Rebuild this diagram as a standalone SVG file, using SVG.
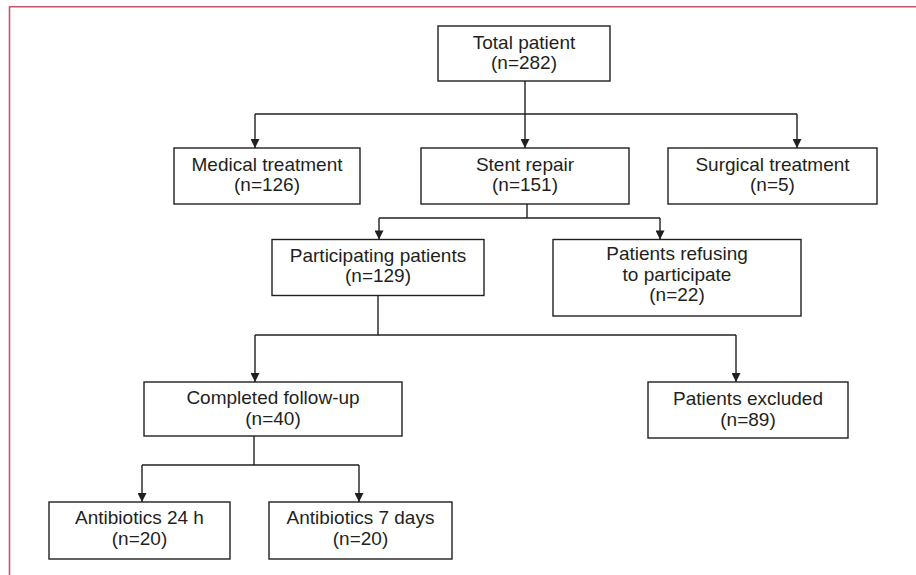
<svg xmlns="http://www.w3.org/2000/svg" width="916" height="575" viewBox="0 0 916 575">
  <style>
    .box { fill: #ffffff; stroke: #231f20; stroke-width: 1.4; }
    .lbl { font-family: "Liberation Sans", Arial, sans-serif; font-size: 19px; fill: #231f20; text-anchor: middle; }
    .conn { fill: none; stroke: #231f20; stroke-width: 1.4; }
    .frame { fill: none; stroke: #c4576c; stroke-width: 1.6; }
  </style>
  <defs>
    <marker id="arr" viewBox="0 0 10 10" refX="10" refY="5" markerWidth="11" markerHeight="9" markerUnits="userSpaceOnUse" orient="auto">
      <path d="M0,0 L10,5 L0,10 z" fill="#231f20"/>
    </marker>
  </defs>
  <rect width="916" height="575" fill="#ffffff"/>
  <path class="frame" d="M9.5,580 V6.8 H920"/>

  <g id="connectors">
    <path class="conn" d="M525,81 V148" marker-end="url(#arr)"/>
    <path class="conn" d="M255,114 H797"/>
    <path class="conn" d="M255,114 V148" marker-end="url(#arr)"/>
    <path class="conn" d="M797,114 V148" marker-end="url(#arr)"/>

    <path class="conn" d="M527,204 V218"/>
    <path class="conn" d="M379,218 H660"/>
    <path class="conn" d="M379,218 V239.5" marker-end="url(#arr)"/>
    <path class="conn" d="M660,218 V239.5" marker-end="url(#arr)"/>

    <path class="conn" d="M378,295 V335"/>
    <path class="conn" d="M255,335 H736"/>
    <path class="conn" d="M255,335 V382" marker-end="url(#arr)"/>
    <path class="conn" d="M736,335 V382" marker-end="url(#arr)"/>

    <path class="conn" d="M254,436 V465"/>
    <path class="conn" d="M142,465 H359"/>
    <path class="conn" d="M142,465 V502" marker-end="url(#arr)"/>
    <path class="conn" d="M359,465 V502" marker-end="url(#arr)"/>
  </g>

  <g id="total">
    <rect class="box" x="438" y="26" width="172" height="55"/>
    <text class="lbl" x="524" y="49">Total patient</text>
    <text class="lbl" x="524" y="69">(n=282)</text>
  </g>
  <g id="medical">
    <rect class="box" x="174" y="148" width="186" height="56"/>
    <text class="lbl" x="267" y="171">Medical treatment</text>
    <text class="lbl" x="267" y="191">(n=126)</text>
  </g>
  <g id="stent">
    <rect class="box" x="421" y="148" width="208" height="56"/>
    <text class="lbl" x="525" y="171">Stent repair</text>
    <text class="lbl" x="525" y="191">(n=151)</text>
  </g>
  <g id="surgical">
    <rect class="box" x="668" y="148" width="209" height="56"/>
    <text class="lbl" x="772.5" y="171">Surgical treatment</text>
    <text class="lbl" x="772.5" y="191">(n=5)</text>
  </g>
  <g id="participating">
    <rect class="box" x="272" y="239.5" width="212" height="56"/>
    <text class="lbl" x="378" y="262">Participating patients</text>
    <text class="lbl" x="378" y="282">(n=129)</text>
  </g>
  <g id="refusing">
    <rect class="box" x="553" y="239.5" width="248" height="76.5"/>
    <text class="lbl" x="677" y="260">Patients refusing</text>
    <text class="lbl" x="677" y="280.5">to participate</text>
    <text class="lbl" x="677" y="301">(n=22)</text>
  </g>
  <g id="completed">
    <rect class="box" x="144" y="382" width="258" height="54"/>
    <text class="lbl" x="273" y="404">Completed follow-up</text>
    <text class="lbl" x="273" y="425">(n=40)</text>
  </g>
  <g id="excluded">
    <rect class="box" x="648" y="382" width="200" height="56"/>
    <text class="lbl" x="748" y="405">Patients excluded</text>
    <text class="lbl" x="748" y="426">(n=89)</text>
  </g>
  <g id="anti24">
    <rect class="box" x="49" y="502" width="181" height="57"/>
    <text class="lbl" x="139.5" y="524">Antibiotics 24 h</text>
    <text class="lbl" x="139.5" y="545">(n=20)</text>
  </g>
  <g id="anti7">
    <rect class="box" x="269" y="502" width="183" height="57"/>
    <text class="lbl" x="360.5" y="524">Antibiotics 7 days</text>
    <text class="lbl" x="360.5" y="545">(n=20)</text>
  </g>
</svg>
